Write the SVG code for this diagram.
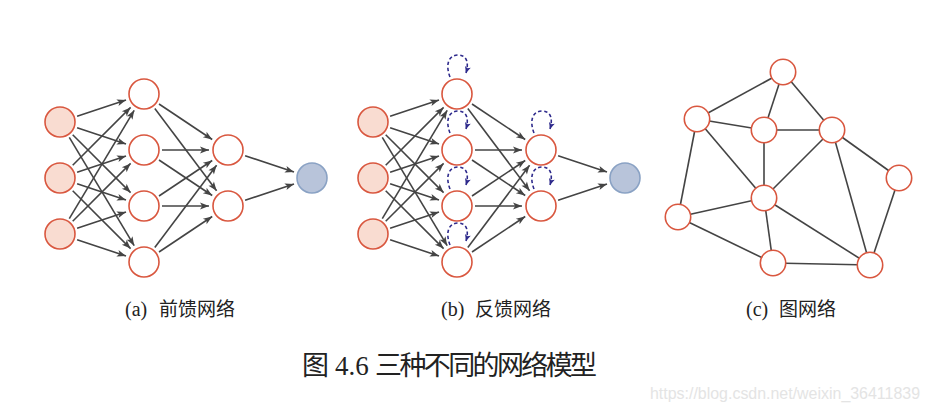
<svg xmlns="http://www.w3.org/2000/svg" width="931" height="413" viewBox="0 0 931 413">
<style>
.in{fill:#f9dcd1;stroke:#d9573f;stroke-width:1.6}
.hd{fill:#ffffff;stroke:#d9573f;stroke-width:1.6}
.out{fill:#b8c4da;stroke:#8aa2c4;stroke-width:1.6}
.ar{stroke:#444;stroke-width:1.6;fill:none;marker-end:url(#ah)}
.ed{stroke:#444;stroke-width:1.6;fill:none}
.lp{stroke:#2e2a8c;stroke-width:1.6;fill:none;stroke-dasharray:3.5 2.5;marker-end:url(#lh)}
.lab{font-family:"Liberation Serif","Noto Sans CJK SC",serif;font-size:19px;fill:#222}
.par{font-size:20px}
.cap{font-family:"Liberation Serif","Noto Sans CJK SC",serif;font-size:27px;fill:#222}
.wm{font-family:"Liberation Sans",sans-serif;font-size:16px;fill:#e4e4e4}
</style>
<defs>
<marker id="ah" viewBox="-10 -5 11 10" refX="0" refY="0" markerWidth="11" markerHeight="10" markerUnits="userSpaceOnUse" orient="auto">
<path d="M0,0 L-9,-3.4 L-6.8,0 L-9,3.4 Z" fill="#444"/>
</marker>
<marker id="lh" viewBox="-8 -4 9 8" refX="0" refY="0" markerWidth="9" markerHeight="8" markerUnits="userSpaceOnUse" orient="auto">
<path d="M0,0 L-6.5,-3 L-5,0 L-6.5,3 Z" fill="#2e2a8c"/>
</marker>
</defs>

<g id="connectors-a">
<path class="ar" d="M77.1,116.3 L126.0,100.0"/>
<path class="ar" d="M77.1,127.7 L126.0,144.0"/>
<path class="ar" d="M72.7,134.7 L130.6,192.6"/>
<path class="ar" d="M69.3,137.4 L134.2,245.7"/>
<path class="ar" d="M72.7,165.3 L130.6,107.4"/>
<path class="ar" d="M77.1,172.3 L126.0,156.0"/>
<path class="ar" d="M77.1,183.7 L126.0,200.0"/>
<path class="ar" d="M72.7,190.7 L130.6,248.6"/>
<path class="ar" d="M69.3,218.6 L134.2,110.3"/>
<path class="ar" d="M72.7,221.3 L130.6,163.4"/>
<path class="ar" d="M77.1,228.3 L126.0,212.0"/>
<path class="ar" d="M77.1,239.7 L126.0,256.0"/>
<path class="ar" d="M159.0,104.0 L212.2,139.5"/>
<path class="ar" d="M154.8,108.4 L216.6,190.8"/>
<path class="ar" d="M162,150 L209,150"/>
<path class="ar" d="M159.0,160.0 L212.2,195.5"/>
<path class="ar" d="M159.0,196.0 L212.2,160.5"/>
<path class="ar" d="M162,206 L209,206"/>
<path class="ar" d="M154.8,247.6 L216.6,165.2"/>
<path class="ar" d="M159.0,252.0 L212.2,216.5"/>
<path class="ar" d="M245.1,155.7 L294.0,172.0"/>
<path class="ar" d="M245.1,200.3 L294.0,184.0"/>
</g>

<g id="nodes-a">
<g id="a-in1"><circle class="in" cx="60" cy="122" r="15"/></g>
<g id="a-in2"><circle class="in" cx="60" cy="178" r="15"/></g>
<g id="a-in3"><circle class="in" cx="60" cy="234" r="15"/></g>
<g id="a-h1"><circle class="hd" cx="144" cy="94" r="15"/></g>
<g id="a-h2"><circle class="hd" cx="144" cy="150" r="15"/></g>
<g id="a-h3"><circle class="hd" cx="144" cy="206" r="15"/></g>
<g id="a-h4"><circle class="hd" cx="144" cy="262" r="15"/></g>
<g id="a-k1"><circle class="hd" cx="228" cy="150" r="15"/></g>
<g id="a-k2"><circle class="hd" cx="228" cy="206" r="15"/></g>
<g id="a-out"><circle class="out" cx="312" cy="178" r="15"/></g>
</g>

<g id="connectors-b">
<g transform="translate(313,0)">
<path class="ar" d="M77.1,116.3 L126.0,100.0"/>
<path class="ar" d="M77.1,127.7 L126.0,144.0"/>
<path class="ar" d="M72.7,134.7 L130.6,192.6"/>
<path class="ar" d="M69.3,137.4 L134.2,245.7"/>
<path class="ar" d="M72.7,165.3 L130.6,107.4"/>
<path class="ar" d="M77.1,172.3 L126.0,156.0"/>
<path class="ar" d="M77.1,183.7 L126.0,200.0"/>
<path class="ar" d="M72.7,190.7 L130.6,248.6"/>
<path class="ar" d="M69.3,218.6 L134.2,110.3"/>
<path class="ar" d="M72.7,221.3 L130.6,163.4"/>
<path class="ar" d="M77.1,228.3 L126.0,212.0"/>
<path class="ar" d="M77.1,239.7 L126.0,256.0"/>
<path class="ar" d="M159.0,104.0 L212.2,139.5"/>
<path class="ar" d="M154.8,108.4 L216.6,190.8"/>
<path class="ar" d="M162,150 L209,150"/>
<path class="ar" d="M159.0,160.0 L212.2,195.5"/>
<path class="ar" d="M159.0,196.0 L212.2,160.5"/>
<path class="ar" d="M162,206 L209,206"/>
<path class="ar" d="M154.8,247.6 L216.6,165.2"/>
<path class="ar" d="M159.0,252.0 L212.2,216.5"/>
<path class="ar" d="M245.1,155.7 L294.0,172.0"/>
<path class="ar" d="M245.1,200.3 L294.0,184.0"/>
</g>
<path class="lp" d="M450,77 C445,64 449,55 458,55 C467,55 469,63 466,73"/>
<path class="lp" d="M450,133 C445,120 449,111 458,111 C467,111 469,119 466,129"/>
<path class="lp" d="M450,189 C445,176 449,167 458,167 C467,167 469,175 466,185"/>
<path class="lp" d="M450,245 C445,232 449,223 458,223 C467,223 469,231 466,241"/>
<path class="lp" d="M534,133 C529,120 533,111 542,111 C551,111 553,119 550,129"/>
<path class="lp" d="M534,189 C529,176 533,167 542,167 C551,167 553,175 550,185"/>
</g>

<g id="nodes-b">
<g id="b-in1"><circle class="in" cx="373" cy="122" r="15"/></g>
<g id="b-in2"><circle class="in" cx="373" cy="178" r="15"/></g>
<g id="b-in3"><circle class="in" cx="373" cy="234" r="15"/></g>
<g id="b-h1"><circle class="hd" cx="457" cy="94" r="15"/></g>
<g id="b-h2"><circle class="hd" cx="457" cy="150" r="15"/></g>
<g id="b-h3"><circle class="hd" cx="457" cy="206" r="15"/></g>
<g id="b-h4"><circle class="hd" cx="457" cy="262" r="15"/></g>
<g id="b-k1"><circle class="hd" cx="541" cy="150" r="15"/></g>
<g id="b-k2"><circle class="hd" cx="541" cy="206" r="15"/></g>
<g id="b-out"><circle class="out" cx="625" cy="178" r="15"/></g>
</g>

<g id="connectors-c">
<path class="ed" d="M783,72 L697,119"/>
<path class="ed" d="M783,72 L764,130"/>
<path class="ed" d="M783,72 L832,130"/>
<path class="ed" d="M697,119 L764,130"/>
<path class="ed" d="M764,130 L832,130"/>
<path class="ed" d="M697,119 L764,198"/>
<path class="ed" d="M697,119 L678,217"/>
<path class="ed" d="M764,130 L764,198"/>
<path class="ed" d="M832,130 L764,198"/>
<path class="ed" d="M832,130 L899,178"/>
<path class="ed" d="M832,130 L870,265"/>
<path class="ed" d="M899,178 L870,265"/>
<path class="ed" d="M764,198 L678,217"/>
<path class="ed" d="M764,198 L773,263"/>
<path class="ed" d="M764,198 L870,265"/>
<path class="ed" d="M678,217 L773,263"/>
<path class="ed" d="M773,263 L870,265"/>
</g>

<g id="nodes-c">
<g id="c-n1"><circle class="hd" cx="783" cy="72" r="12.7"/></g>
<g id="c-n2"><circle class="hd" cx="697" cy="119" r="12.7"/></g>
<g id="c-n3"><circle class="hd" cx="764" cy="130" r="12.7"/></g>
<g id="c-n4"><circle class="hd" cx="832" cy="130" r="12.7"/></g>
<g id="c-n5"><circle class="hd" cx="899" cy="178" r="12.7"/></g>
<g id="c-n6"><circle class="hd" cx="764" cy="198" r="12.7"/></g>
<g id="c-n7"><circle class="hd" cx="678" cy="217" r="12.7"/></g>
<g id="c-n8"><circle class="hd" cx="773" cy="263" r="12.7"/></g>
<g id="c-n9"><circle class="hd" cx="870" cy="265" r="12.7"/></g>
</g>

<g id="labels">
<text class="lab" y="316"><tspan class="par" x="125">(a)</tspan><tspan x="159">前馈网络</tspan></text>
<text class="lab" y="316"><tspan class="par" x="441">(b)</tspan><tspan x="475">反馈网络</tspan></text>
<text class="lab" y="316"><tspan class="par" x="746">(c)</tspan><tspan x="779">图网络</tspan></text>
<text class="cap" y="375"><tspan x="302">图</tspan><tspan x="335">4.6</tspan><tspan x="375" textLength="222" lengthAdjust="spacing">三种不同的网络模型</tspan></text>
<text class="wm" x="650" y="399" textLength="270" lengthAdjust="spacingAndGlyphs">https://blog.csdn.net/weixin_36411839</text>
</g>
</svg>
